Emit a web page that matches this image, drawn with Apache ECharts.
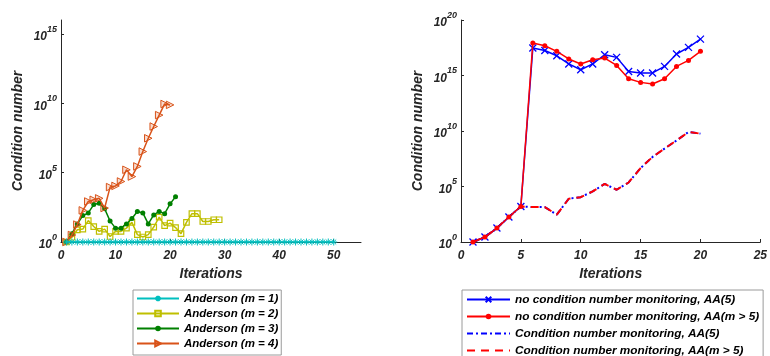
<!DOCTYPE html>
<html>
<head>
<meta charset="utf-8">
<script src="https://cdn.jsdelivr.net/npm/echarts@6/dist/echarts.min.js"></script>
<style>
html,body{margin:0;padding:0;background:#fff;}
#chart{width:770px;height:356px;}
</style>
</head>
<body>
<div id="chart"></div>
<script>
// ---------- Data ----------
// Left panel: Anderson acceleration with memory m
const leftNames = ['Anderson (m = 1)', 'Anderson (m = 2)', 'Anderson (m = 3)', 'Anderson (m = 4)'];
const m1Values = [1,1,1,1,1,1,1,1,1,1,1,1,1,1,1,1,1,1,1,1,1,1,1,1,1,1,1,1,1,1,1,1,1,1,1,1,1,1,1,1,1,1,1,1,1,1,1,1,1,1];
const m2Values = [1, 2.2, 7.6, 8.5, 35, 13, 5.8, 8.5, 2.5, 5.8, 5.8, 10, 26, 3.4, 2.3, 3.4, 12, 63, 15, 23, 11, 4, 26, 110, 110, 30, 30, 40, 40];
const m3Values = [1, 4, 20, 80, 125, 500, 630, 250, 32, 10, 10, 20, 50, 160, 125, 20, 90, 160, 110, 560, 1800];
const m4Values = [1, 3.2, 18, 190, 830, 1.1e3, 1.4e3, 280, 9.1e3, 1.1e4, 2.3e4, 1.6e5, 5.2e4, 2.8e5, 3.3e6, 3.0e7, 2.1e8, 1.4e9, 8.9e9, 7.6e9];
const leftXTicks = [0, 10, 20, 30, 40, 50];
const leftYTicks = [1, 1e5, 1e10, 1e15];

// Right panel: condition number monitoring
const rightNames = [
  'no condition number monitoring, AA(5)',
  'no condition number monitoring, AA(m > 5)',
  'Condition number monitoring, AA(5)',
  'Condition number monitoring, AA(m > 5)'
];
const noMonAA5 = [1, 2.8, 18, 180, 1.6e3, 3.0e17, 1.8e17, 6.0e16, 1.1e16, 3.3e15, 1.1e16, 7.4e16, 4.3e16, 2.3e15, 1.7e15, 1.7e15, 6.6e15, 8.7e16, 3.4e17, 1.9e18];
const noMonAAm = [1, 2.8, 18, 180, 1.6e3, 8.5e17, 4.8e17, 1.5e17, 3.1e16, 1.1e16, 2.6e16, 3.7e16, 8.1e15, 5.1e14, 2.4e14, 1.7e14, 5.1e14, 6.6e15, 2.3e16, 1.5e17];
const monAA5 = [1, 2.8, 18, 180, 1.6e3, 1.4e3, 1.4e3, 290, 7.9e3, 1.1e4, 3.6e4, 1.7e5, 5.1e4, 2.3e5, 4.6e6, 4.6e7, 2.6e8, 1.4e9, 8.1e9, 5.8e9];
const monAAm = [1, 2.8, 18, 180, 1.6e3, 1.4e3, 1.4e3, 290, 7.9e3, 1.1e4, 3.6e4, 1.7e5, 5.1e4, 2.3e5, 4.6e6, 4.6e7, 2.6e8, 1.4e9, 8.1e9, 5.8e9];
const rightXTicks = [0, 5, 10, 15, 20, 25];
const rightYTicks = [1, 1e5, 1e10, 1e15, 1e20];

// ---------- Helpers ----------
const toPairs = arr => arr.map((v, i) => [i + 1, v]);
const AXIS = '#262626';
const FONT = "'Liberation Sans', Arial, sans-serif";
const ASTERISK = 'path://M5 0 L5 10 M0 5 L10 5 M1.5 1.5 L8.5 8.5 M8.5 1.5 L1.5 8.5';
const CROSS = 'path://M0 0 L10 10 M10 0 L0 10';

function supLabel(v) {
  const e = Math.round(Math.log10(v));
  return '{b|10}{s|' + e + '}';
}
const supRich = {
  b: {fontSize: 12, fontWeight: 'bold', fontStyle: 'italic', color: AXIS, fontFamily: FONT, verticalAlign: 'bottom', padding: [6, 0, 0, 0]},
  s: {fontSize: 9, fontWeight: 'bold', fontStyle: 'italic', color: AXIS, fontFamily: FONT, verticalAlign: 'top', padding: [0, 0, 6, 0]}
};

function xAxis(gridIndex, max, ticks) {
  return {
    type: 'value', gridIndex, min: 0, max,
    name: 'Iterations', nameLocation: 'middle', nameGap: 24,
    nameTextStyle: {fontSize: 14, fontWeight: 'bold', fontStyle: 'italic', color: AXIS, fontFamily: FONT},
    axisLine: {show: true, lineStyle: {color: AXIS, width: 1}},
    axisTick: {show: true, inside: true, length: 3, lineStyle: {color: AXIS}, customValues: ticks},
    axisLabel: {fontSize: 12, fontWeight: 'bold', fontStyle: 'italic', color: AXIS, fontFamily: FONT, margin: 8, customValues: ticks},
    splitLine: {show: false}
  };
}
function yAxis(gridIndex, max, ticks) {
  return {
    type: 'log', logBase: 10, gridIndex, min: 1, max,
    name: 'Condition number', nameLocation: 'middle', nameGap: 36,
    nameTextStyle: {fontSize: 14, fontWeight: 'bold', fontStyle: 'italic', color: AXIS, fontFamily: FONT},
    axisLine: {show: true, lineStyle: {color: AXIS, width: 1}},
    axisTick: {show: true, inside: true, length: 3, lineStyle: {color: AXIS}, customValues: ticks},
    axisLabel: {margin: 4, formatter: supLabel, rich: supRich, customValues: ticks},
    splitLine: {show: false}
  };
}

const legendText = size => ({fontSize: size, fontWeight: 'bold', fontStyle: 'italic', color: '#000', fontFamily: FONT, lineHeight: 13});
const noSymbol = {color: 'transparent', borderColor: 'transparent', borderWidth: 0};

const option = {
  backgroundColor: '#fff',
  animation: false,
  grid: [
    {left: 61, top: 20, width: 300, height: 222},
    {left: 461, top: 20, width: 300, height: 222}
  ],
  xAxis: [xAxis(0, 55, leftXTicks), xAxis(1, 25, rightXTicks)],
  yAxis: [yAxis(0, 1e16, leftYTicks), yAxis(1, 1e20, rightYTicks)],
  legend: [
    {
      data: leftNames, orient: 'vertical', left: 133, top: 290, height: 120,
      itemWidth: 42, itemHeight: 7, itemGap: 2,
      padding: [2, 3, 5, 3],
      borderColor: '#9a9a9a', borderWidth: 1, backgroundColor: '#fff',
      textStyle: legendText(11.5), selectedMode: false
    },
    {
      data: [
        {name: rightNames[0]},
        {name: rightNames[1]},
        {name: rightNames[2], itemStyle: noSymbol},
        {name: rightNames[3], itemStyle: noSymbol}
      ],
      orient: 'vertical', left: 462, top: 290, height: 120,
      itemWidth: 43, itemHeight: 7, itemGap: 4,
      padding: [3, 4, 5, 4],
      borderColor: '#9a9a9a', borderWidth: 1, backgroundColor: '#fff',
      textStyle: legendText(11.8), selectedMode: false
    }
  ],
  series: [
    {name: leftNames[0], type: 'line', xAxisIndex: 0, yAxisIndex: 0, data: toPairs(m1Values),
     symbol: ASTERISK, symbolSize: 7, lineStyle: {color: '#00BFBF', width: 1.5},
     itemStyle: {color: 'transparent', borderColor: '#00BFBF', borderWidth: 1}, z: 5},
    {name: leftNames[1], type: 'line', xAxisIndex: 0, yAxisIndex: 0, data: toPairs(m2Values),
     symbol: 'rect', symbolSize: 5.5, lineStyle: {color: '#BFBF00', width: 1.5},
     itemStyle: {color: 'transparent', borderColor: '#BFBF00', borderWidth: 1.2}, z: 2},
    {name: leftNames[2], type: 'line', xAxisIndex: 0, yAxisIndex: 0, data: toPairs(m3Values),
     symbol: 'circle', symbolSize: 5, lineStyle: {color: '#008000', width: 1.5},
     itemStyle: {color: '#008000'}, z: 3},
    {name: leftNames[3], type: 'line', xAxisIndex: 0, yAxisIndex: 0, data: toPairs(m4Values),
     symbol: 'triangle', symbolRotate: -90, symbolSize: 7.5, lineStyle: {color: '#D95319', width: 1.5},
     itemStyle: {color: 'rgba(217,83,25,0.2)', borderColor: '#D95319', borderWidth: 1}, z: 4},

    {name: rightNames[2], type: 'line', xAxisIndex: 1, yAxisIndex: 1, data: toPairs(monAA5),
     symbol: 'none', lineStyle: {color: '#0000FF', width: 2, type: [6, 3, 2, 3]},
     itemStyle: {color: '#0000FF'}, z: 2},
    {name: rightNames[3], type: 'line', xAxisIndex: 1, yAxisIndex: 1, data: toPairs(monAAm),
     symbol: 'none', lineStyle: {color: '#FF0000', width: 2, type: [8, 6]},
     itemStyle: {color: '#FF0000'}, z: 3},
    {name: rightNames[0], type: 'line', xAxisIndex: 1, yAxisIndex: 1, data: toPairs(noMonAA5),
     symbol: CROSS, symbolSize: 7, lineStyle: {color: '#0000FF', width: 1.5},
     itemStyle: {color: 'transparent', borderColor: '#0000FF', borderWidth: 1.3}, z: 4},
    {name: rightNames[1], type: 'line', xAxisIndex: 1, yAxisIndex: 1, data: toPairs(noMonAAm),
     symbol: 'circle', symbolSize: 5, lineStyle: {color: '#FF0000', width: 1.5},
     itemStyle: {color: '#FF0000'}, z: 5}
  ]
};

const chart = echarts.init(document.getElementById('chart'), null, {renderer: 'canvas'});
chart.setOption(option);
</script>
</body>
</html>
